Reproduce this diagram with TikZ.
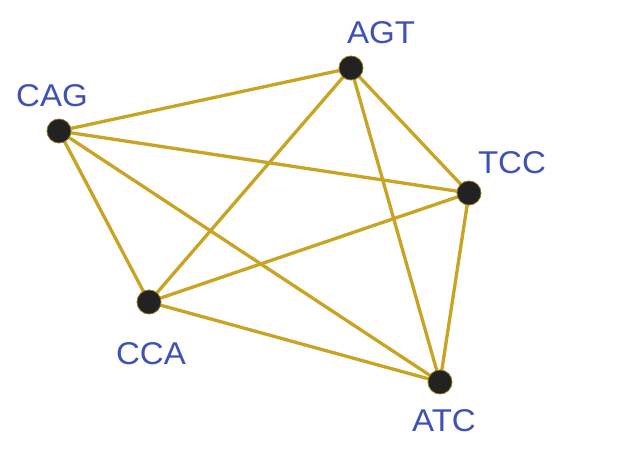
\documentclass[tikz,border=0pt]{standalone}
\usepackage{fontspec}
\setmainfont{Liberation Sans}
\definecolor{edgegold}{HTML}{C9A423}
\definecolor{lblblue}{HTML}{3F51B5}
\definecolor{dotfill}{HTML}{222222}
\begin{document}
\begin{tikzpicture}[x=1pt,y=-1pt,
  vert/.style={circle,fill=dotfill,draw=edgegold!70!black,line width=0.8pt,minimum size=24pt,inner sep=0pt},
  lbl/.style={text=lblblue,font=\fontsize{31.5}{31.5}\selectfont,inner sep=0pt,anchor=center,xscale=1.05},
  edge/.style={draw=edgegold,line width=3.3pt}]
\useasboundingbox (0,0) rectangle (624,452);
\fill[white] (0,0) rectangle (624,452);
\coordinate (pAGT) at (351,68);
\coordinate (pCAG) at (59,131);
\coordinate (pTCC) at (469,193);
\coordinate (pCCA) at (149,302);
\coordinate (pATC) at (440,382);
\draw[edge] (pCAG) -- (pAGT);
\draw[edge] (pCAG) -- (pTCC);
\draw[edge] (pCAG) -- (pCCA);
\draw[edge] (pCAG) -- (pATC);
\draw[edge] (pAGT) -- (pCCA);
\draw[edge] (pAGT) -- (pTCC);
\draw[edge] (pAGT) -- (pATC);
\draw[edge] (pTCC) -- (pCCA);
\draw[edge] (pTCC) -- (pATC);
\draw[edge] (pCCA) -- (pATC);
\node[vert] (AGT) at (pAGT) {};
\node[vert] (CAG) at (pCAG) {};
\node[vert] (TCC) at (pTCC) {};
\node[vert] (CCA) at (pCCA) {};
\node[vert] (ATC) at (pATC) {};
\node[lbl] (lAGT) at (381,33) {AGT};
\node[lbl] (lCAG) at (52,96) {CAG};
\node[lbl] (lTCC) at (512,163) {TCC};
\node[lbl] (lCCA) at (151,354) {CCA};
\node[lbl] (lATC) at (444,421) {ATC};
\end{tikzpicture}
\end{document}
